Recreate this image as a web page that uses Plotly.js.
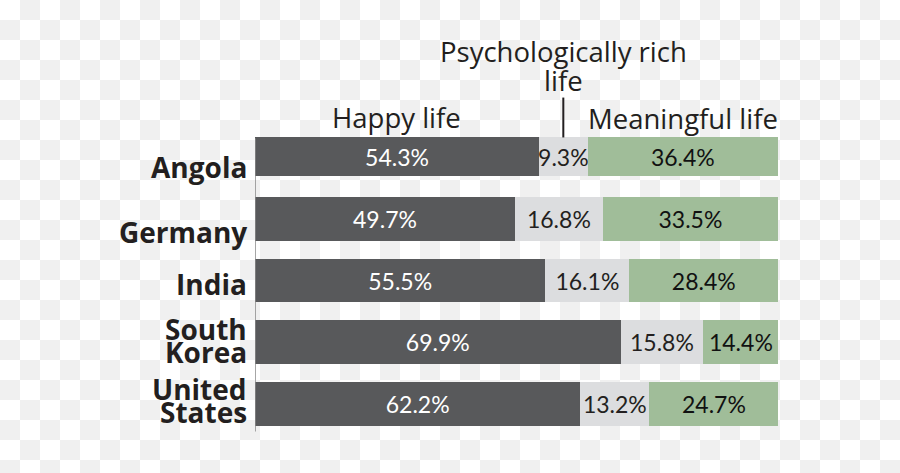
<!DOCTYPE html>
<html><head><meta charset="utf-8">
<script src="https://cdn.plot.ly/plotly-3.0.1.min.js"></script>
<style>
html,body{margin:0;padding:0;}
body{width:900px;height:473px;background-color:#fff;background-image:conic-gradient(#f0f0f0 0 25%,#fff 0 50%,#f0f0f0 0 75%,#fff 0);background-size:40px 40px;overflow:hidden;}
#chart{width:900px;height:473px;}
</style></head><body><div id="chart"></div>
<script>
const countries = ["Angola","Germany","India","South Korea","United States"];
const seriesNames = ["Happy life","Psychologically rich<br>life","Meaningful life"];
const happy = [54.3,49.7,55.5,69.9,62.2];
const rich = [9.3,16.8,16.1,15.8,13.2];
const meaningful = [36.4,33.5,28.4,14.4,24.7];

const barColors = ["#58595b","#dcdddf","#a0bd99"];
const textColors = ["#ffffff","#231f20","#111111"];
const barWidths = [0.63,0.71,0.71,0.71,0.71];
const labelShift = [-10,-13,-3,2,3.5];

const seriesVals = [happy, rich, meaningful];
const traces = seriesVals.map((vals, i) => ({
  type:'bar', orientation:'h', name: seriesNames[i],
  y: countries, x: vals, width: barWidths,
  marker:{color: barColors[i], line:{width:0}},
  text: vals.map(v => v.toFixed(1) + '%'),
  textposition:'inside', insidetextanchor:'middle', textangle:0, constraintext:'none',
  textfont:{family:'Lato, sans-serif', size:23, color: textColors[i]},
  hoverinfo:'skip'
}));

const annotations = [];
countries.forEach((c, ci) => {
  const lines = c.split(' ');
  const n = lines.length;
  lines.forEach((ln, li) => {
    annotations.push({
      xref:'paper', x:0, xanchor:'right', xshift:-6,
      yref:'y', y:c, yanchor:'middle', yshift: labelShift[ci] - (li - (n-1)/2) * 23,
      text: ln, showarrow:false,
      font:{family:'Open Sans, sans-serif', size:28, weight:700, color:'#231f20'}
    });
  });
});

const mids = [happy[0]/2, happy[0] + rich[0]/2, happy[0] + rich[0] + meaningful[0]/2];
const headerShift = [-12, 25.5, -13];
seriesNames.forEach((s, i) => {
  const lines = s.split('<br>');
  const n = lines.length;
  lines.forEach((ln, li) => {
    annotations.push({
      xref:'x', x: mids[i], xanchor:'center',
      yref:'paper', y:1, yanchor:'bottom', yshift: headerShift[i] + (n - 1 - li) * 29,
      text: ln, showarrow:false,
      font:{family:'Open Sans, sans-serif', size:27.5, color:'#231f20'}
    });
  });
});

const layout = {
  width:900, height:473,
  paper_bgcolor:'rgba(0,0,0,0)', plot_bgcolor:'rgba(0,0,0,0)',
  barmode:'stack', showlegend:false,
  margin:{l:255, r:121.5, t:125.5, b:37.5, pad:0},
  xaxis:{range:[0,100], visible:false, fixedrange:true},
  yaxis:{type:'category', categoryorder:'array', categoryarray:countries, range:[4.5,-0.5],
         showticklabels:false, showgrid:false, zeroline:false, showline:false, ticks:'', fixedrange:true},
  annotations: annotations,
  shapes:[
    {type:'line', xref:'x', x0:0, x1:0, yref:'paper', y0:0.011, y1:0.96, line:{color:'#888888', width:1.5}},
    {type:'line', xref:'x', x0:mids[1], x1:mids[1], yref:'paper', y0:0.963, y1:1.092, line:{color:'#231f20', width:2}}
  ]
};
Plotly.newPlot('chart', traces, layout, {displayModeBar:false, staticPlot:true});
</script></body></html>
